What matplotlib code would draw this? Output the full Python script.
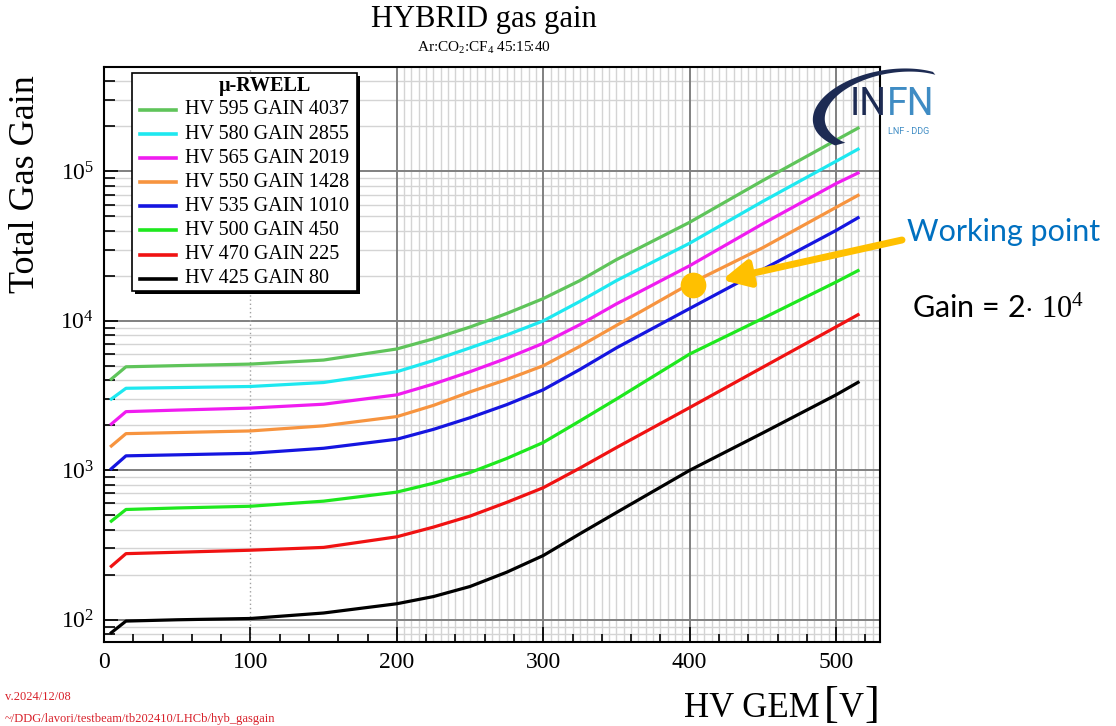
import numpy as np
import matplotlib
matplotlib.use("Agg")
import matplotlib.pyplot as plt
import matplotlib.ticker as mticker
from matplotlib.lines import Line2D
from matplotlib.patches import Rectangle, Polygon

# ---------------- data ----------------
hv_gem = [5, 15, 50, 100, 150, 200, 225, 250, 275, 300, 325, 350, 400, 450, 500, 515]

gain_595 = [4080, 4930, 5020, 5140, 5470, 6490, 7590, 9100, 11200, 14100, 18600, 25700, 45700, 87000, 162000, 195000]
gain_580 = [3000, 3540, 3580, 3640, 3870, 4570, 5430, 6600, 8040, 10000, 13500, 18600, 33100, 63100, 117000, 141000]
gain_565 = [2040, 2470, 2530, 2610, 2770, 3200, 3780, 4570, 5620, 7080, 9440, 13000, 23400, 44700, 83000, 97700]
gain_550 = [1455, 1760, 1790, 1835, 1985, 2290, 2720, 3350, 4050, 5010, 6760, 9330, 17700, 30900, 57500, 69200]
gain_535 = [1025, 1250, 1270, 1300, 1405, 1615, 1880, 2250, 2750, 3460, 4730, 6600, 12100, 22100, 40300, 49000]
gain_500 = [457, 547, 560, 575, 622, 715, 820, 966, 1200, 1535, 2140, 3000, 6000, 10400, 18200, 21700]
gain_470 = [228, 277, 283, 292, 305, 359, 417, 494, 610, 765, 1035, 1420, 2630, 4900, 9120, 11000]
gain_425 = [82, 98, 100, 102, 111, 128, 143, 167, 208, 269, 376, 522, 1000, 1780, 3200, 3880]

series = [gain_595, gain_580, gain_565, gain_550, gain_535, gain_500, gain_470, gain_425]
legend_labels = ["HV 595 GAIN 4037", "HV 580 GAIN 2855", "HV 565 GAIN 2019",
                 "HV 550 GAIN 1428", "HV 535 GAIN 1010", "HV 500 GAIN 450",
                 "HV 470 GAIN 225", "HV 425 GAIN 80"]
colors = ["#5fc45a", "#1ee8f0", "#f01cf0", "#f7943f", "#1515e0", "#1ee81e", "#f01212", "#000000"]

wp_hv = 402
wp_gain = 17300

# ---------------- style ----------------
plt.rcParams['font.family'] = ['Liberation Serif', 'DejaVu Serif']
plt.rcParams['mathtext.fontset'] = 'custom'
plt.rcParams['mathtext.rm'] = 'Liberation Serif'
plt.rcParams['mathtext.it'] = 'Liberation Serif:italic'
plt.rcParams['mathtext.bf'] = 'Liberation Serif:bold'

W, H = 1116, 726
fig = plt.figure(figsize=(W / 100, H / 100), dpi=100)


def fx(x):
    return x / W


def fy(y):
    return 1 - y / H


L, R, T, B = 104, 880, 67, 642
ax = fig.add_axes([fx(L), fy(B), (R - L) / W, (B - T) / H])
ax.set_yscale('log')
ax.set_xlim(0, 530)
ax.set_ylim(71, 5e5)

# grid (ROOT-like)
for dec in range(1, 6):
    for m in range(2, 10):
        v = m * 10 ** dec
        if 71 < v < 5e5:
            ax.axhline(v, color='#d4d4d4', lw=1.0, zorder=0)
for v in np.arange(205, 530, 5):
    if v % 100 != 0:
        ax.axvline(v, color='#d4d4d4', lw=1.0, zorder=0)
for dec in range(2, 6):
    ax.axhline(10 ** dec, color='#808080', lw=1.4, zorder=0.5)
ax.axvline(100, color='#a0a0a0', lw=1.0, ls=(0, (1, 2)), zorder=0.5)
for v in [200, 300, 400, 500]:
    ax.axvline(v, color='#808080', lw=1.4, zorder=0.5)

# curves
for g, c in zip(series, colors):
    ax.plot(hv_gem, g, color=c, lw=2.3, zorder=3, solid_joinstyle='round')

# ticks
ax.xaxis.set_major_locator(mticker.MultipleLocator(100))
ax.xaxis.set_minor_locator(mticker.MultipleLocator(20))
ax.yaxis.set_major_locator(mticker.LogLocator(base=10))
ax.yaxis.set_minor_locator(mticker.LogLocator(base=10, subs=np.arange(2, 10)))
ax.yaxis.set_major_formatter(mticker.FuncFormatter(lambda v, p: r'$10^{%d}$' % int(round(np.log10(v)))))
ax.yaxis.set_minor_formatter(mticker.NullFormatter())
ax.tick_params(axis='x', which='major', direction='in', length=11, width=1.2, labelsize=17, pad=7)
ax.tick_params(axis='x', which='minor', direction='in', length=6, width=1.2)
ax.tick_params(axis='y', which='major', direction='in', length=10, width=1.2, labelsize=17, pad=7)
ax.tick_params(axis='y', which='minor', direction='in', length=8, width=1.2)
for s in ax.spines.values():
    s.set_linewidth(1.5)
    s.set_color('black')

# working point
ax.plot([wp_hv], [wp_gain], 'o', ms=17.5, color='#FFC000', zorder=5, clip_on=False)
ax.annotate('', xy=(722, H - 280), xycoords='figure pixels',
            xytext=(902, H - 240), textcoords='figure pixels',
            arrowprops=dict(arrowstyle='-|>,head_length=0.8,head_width=0.4', lw=5,
                            color='#FFC000', mutation_scale=20, shrinkA=0, shrinkB=0),
            annotation_clip=False, zorder=6)
fig.text(fx(907), fy(232), "Working point", fontsize=22, color='#0070C0',
         family=['Lato', 'DejaVu Sans'], ha='left', va='center')
fig.text(fx(912), fy(318), r"Gain = 2$\cdot$ $10^{4}$", fontsize=22, color='black',
         family=['Lato', 'DejaVu Sans'], ha='left', va='baseline')

# titles
fig.text(fx(484), fy(20), "HYBRID gas gain", fontsize=22, ha='center', va='center')
fig.text(fx(484), fy(48), r"Ar:CO$_2$:CF$_4$ 45:15:40", fontsize=11, ha='center', va='center')
fig.text(fx(26), fy(184), "Total Gas Gain", fontsize=26, rotation=90, ha='center', va='center')
# x-axis title with large brackets (ROOT #left[ #right])
fig.text(fx(820), fy(717), "HV GEM", fontsize=25, ha='right', va='baseline')
fig.text(fx(824), fy(717), "[", fontsize=32, ha='left', va='baseline')
fig.text(fx(839), fy(717), "V", fontsize=25, ha='left', va='baseline')
fig.text(fx(864), fy(717), "]", fontsize=32, ha='left', va='baseline')

# footer
fig.text(fx(5), fy(697), "v.2024/12/08", fontsize=9, color='#d8202a', ha='left', va='center')
fig.text(fx(5), fy(719), "~/DDG/lavori/testbeam/tb202410/LHCb/hyb_gasgain", fontsize=9,
         color='#d8202a', ha='left', va='center')

# legend (manual, ROOT style)
lx0, ly0, lx1, ly1 = 132, 73, 357, 291
fig.patches.append(Rectangle((fx(lx0 + 3), fy(ly1 + 3)), (lx1 - lx0) / W, (ly1 - ly0) / H,
                             transform=fig.transFigure, facecolor='black', edgecolor='none', zorder=7))
fig.patches.append(Rectangle((fx(lx0), fy(ly1)), (lx1 - lx0) / W, (ly1 - ly0) / H,
                             transform=fig.transFigure, facecolor='white', edgecolor='black',
                             lw=1.2, zorder=8))
fig.text(fx(265), fy(86), "μ-RWELL", fontsize=14.5, fontweight='bold', ha='center', va='center', zorder=9)
for i, (lab, c) in enumerate(zip(legend_labels, colors)):
    yy = 110 + i * 24.1
    fig.lines.append(Line2D([fx(140), fx(176)], [fy(yy), fy(yy)], transform=fig.transFigure,
                            color=c, lw=2.6, zorder=9))
    fig.text(fx(185), fy(yy), lab, fontsize=14.5, ha='left', va='center', zorder=9)

# INFN logo
navy = '#1d2b53'
teal = '#3f8cc4'
cx_o, cy_o, a_o, b_o = 888, 110, 76, 40
cx_i, cy_i, a_i, b_i = 894, 110, 70, 37
phi = np.deg2rad(-10)
th = np.deg2rad(np.linspace(140, 312, 120))


def ell(cx, cy, a, b, t):
    x = cx + a * np.cos(t) * np.cos(phi) - b * np.sin(t) * np.sin(phi)
    y = cy + a * np.cos(t) * np.sin(phi) + b * np.sin(t) * np.cos(phi)
    return x, y


xo, yo = ell(cx_o, cy_o, a_o, b_o, th)
xi, yi = ell(cx_i, cy_i, a_i, b_i, th[::-1])
px = np.concatenate([xo, xi])
py = np.concatenate([yo, yi])
fig.patches.append(Polygon(np.column_stack([px / W, 1 - py / H]), closed=True,
                           transform=fig.transFigure, facecolor=navy, edgecolor='none', zorder=10))
logo_font = ['Liberation Sans Narrow', 'Roboto', 'DejaVu Sans']
fig.text(fx(850), fy(115), "IN", fontsize=27, color=navy, family=logo_font,
         ha='left', va='baseline', zorder=11)
fig.text(fx(887), fy(115), "FN", fontsize=27, color=teal, family=logo_font,
         ha='left', va='baseline', zorder=11)
fig.text(fx(888), fy(132), "LNF - DDG", fontsize=6.5, color=teal, family=logo_font,
         ha='left', va='center', zorder=11)

fig.savefig("out.png", dpi=100)
